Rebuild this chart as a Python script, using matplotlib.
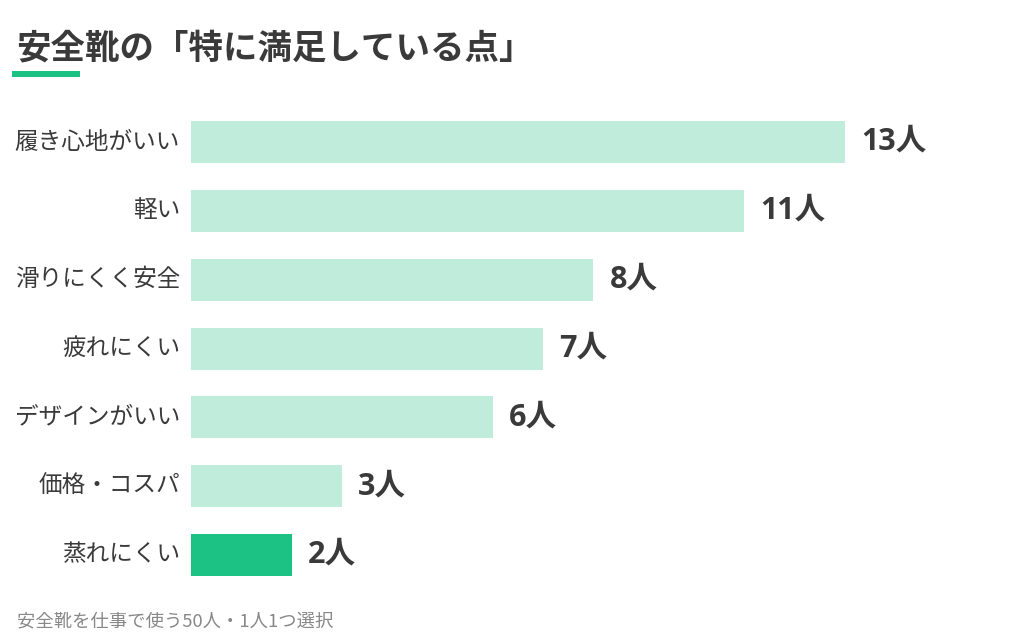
import matplotlib
matplotlib.use("Agg")
import matplotlib.pyplot as plt
from matplotlib.transforms import offset_copy

plt.rcParams['font.family'] = ['Noto Sans CJK JP', 'DejaVu Sans']

title = "安全靴の「特に満足している点」"
categories = ["履き心地がいい", "軽い", "滑りにくく安全", "疲れにくい", "デザインがいい", "価格・コスパ", "蒸れにくい"]
values = [13, 11, 8, 7, 6, 3, 2]
highlight = ["蒸れにくい"]
unit = "人"
footnote = "安全靴を仕事で使う50人・1人1つ選択"

LIGHT = "#c0eddb"
GREEN = "#1bc283"
TEXT = "#3a3a3a"

W, H = 1024, 640
fig = plt.figure(figsize=(W / 100, H / 100), dpi=100)
fig.patch.set_facecolor("white")

ax_left, ax_right = 191, 1000
row0, row6 = 142, 555
sp = (row6 - row0) / 6
ax_top = row0 - sp / 2
ax_bot = row6 + sp / 2
ax = fig.add_axes([ax_left / W, 1 - ax_bot / H, (ax_right - ax_left) / W, (ax_bot - ax_top) / H])
px_per_unit = (845 - 191) / 13
ax.set_xlim(0, (ax_right - ax_left) / px_per_unit)
ax.set_ylim(len(categories) - 0.5, -0.5)

ys = list(range(len(categories)))
colors = [GREEN if c in highlight else LIGHT for c in categories]
ax.barh(ys, values, height=42 / sp, color=colors, linewidth=0)

for y, v, c in zip(ys, values, categories):
    t = offset_copy(ax.transData, fig=fig, x=16, y=0, units="dots")
    ax.text(v, y, f"{v}{unit}", transform=t, ha="left", va="center",
            fontsize=22, fontweight="bold", color=TEXT,
            family=["Open Sans", "Noto Sans CJK JP"])
    t2 = offset_copy(ax.transData, fig=fig, x=-11, y=0, units="dots")
    ax.text(0, y, c, transform=t2, ha="right", va="center", fontsize=17, color=TEXT)

for s in ax.spines.values():
    s.set_visible(False)
ax.set_xticks([])
ax.set_yticks([])

fig.text(16 / W, 1 - 48 / H, title, ha="left", va="center", fontsize=24.8,
         fontweight="bold", color=TEXT)
fig.add_artist(plt.Rectangle((12 / W, 1 - 77 / H), 68 / W, 6 / H,
                             transform=fig.transFigure, color=GREEN, linewidth=0))
fig.text(17 / W, 1 - 621 / H, footnote, ha="left", va="center", fontsize=13.2, color="#888888")

fig.savefig("out.png", dpi=100, facecolor="white")
